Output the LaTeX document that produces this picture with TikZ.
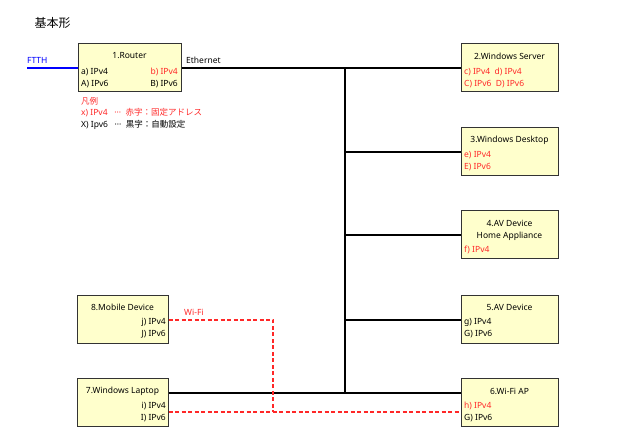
\documentclass[tikz,border=0pt]{standalone}
\usepackage{fontspec}
\setmainfont{Noto Sans}
\newfontfamily\jpfont{Noto Sans CJK JP}
\usetikzlibrary{positioning}
\definecolor{boxfill}{RGB}{255,255,204}
\definecolor{ipred}{RGB}{255,40,40}
\tikzset{
  devbox/.style={draw=black!80,line width=1pt,fill=boxfill,minimum width=97pt,minimum height=48pt,inner sep=0pt},
  smallbox/.style={devbox,minimum width=91pt},
  txt/.style={font=\fontsize{8.5}{10}\selectfont,inner sep=0pt},
  red4/.style={txt,text=ipred},
  eth/.style={line width=1.3pt,black},
  wifi/.style={line width=1.3pt,ipred,dash pattern=on 4pt off 2.5pt}
}
\begin{document}
\begin{tikzpicture}[x=1pt,y=-1pt]
            \useasboundingbox (0,0) rectangle (640,443);
            \node[font=\jpfont\fontsize{12}{14}\selectfont,anchor=west] (title) at (31,23) {基本形};

            % Devices
            \node[devbox,minimum width=103pt] (router) at (129.5,68) {};
            \node[txt] at (129.5,56) {1.Router};
            \node[txt,anchor=west] at (81,72) {a) IPv4};
            \node[txt,anchor=west] at (81,84) {A) IPv6};
            \node[red4,anchor=east] at (178,72) {b) IPv4};
            \node[txt,anchor=east] at (178,84) {B) IPv6};

            \node[devbox] (server) at (509.5,68) {};
            \node[txt] at (509.5,56) {2.Windows Server};
            \node[red4,anchor=west] at (464,72) {c) IPv4 \ d) IPv4};
            \node[red4,anchor=west] at (464,84) {C) IPv6 \ D) IPv6};

            \node[devbox] (desktop) at (509.5,152) {};
            \node[txt] at (509.5,140) {3.Windows Desktop};
            \node[red4,anchor=west] at (464,155) {e) IPv4};
            \node[red4,anchor=west] at (464,167) {E) IPv6};

            \node[devbox] (home) at (509.5,235) {};
            \node[txt] at (509.5,223) {4.AV Device};
            \node[txt] at (509.5,236) {Home Appliance};
            \node[red4,anchor=west] at (464,250) {f) IPv4};

            \node[devbox] (av) at (509.5,320) {};
            \node[txt] at (509.5,307) {5.AV Device};
            \node[txt,anchor=west] at (464,322) {g) IPv4};
            \node[txt,anchor=west] at (464,334) {G) IPv6};

            \node[devbox] (ap) at (509.5,403) {};
            \node[txt] at (509.5,391) {6.Wi-Fi AP};
            \node[red4,anchor=west] at (464,406) {h) IPv4};
            \node[txt,anchor=west] at (464,418) {G) IPv6};

            \node[smallbox] (mobile) at (122.5,320) {};
            \node[txt] at (122.5,307) {8.Mobile Device};
            \node[txt,anchor=east] at (166,322) {j) IPv4};
            \node[txt,anchor=east] at (166,334) {J) IPv6};

            \node[smallbox] (laptop) at (122.5,403) {};
            \node[txt] at (122.5,391) {7.Windows Laptop};
            \node[txt,anchor=east] at (166,406) {i) IPv4};
            \node[txt,anchor=east] at (166,418) {I) IPv6};

            % Legend
            \node[red4,anchor=west,font=\jpfont\fontsize{8.5}{10}\selectfont] at (81,101) {凡例};
            \node[red4,anchor=west] at (81,113) {x) IPv4 \ \ ···\ \ {\jpfont 赤字：固定アドレス}};
            \node[txt,anchor=west] at (81,125) {X) Ipv6 \ \ ···\ \ {\jpfont 黒字：自動設定}};

            % Ethernet
            \coordinate (top) at (345,68);
            \coordinate (bottom) at (345,393);
            \draw[eth] (router.east) -- (server.west);
            \draw[eth] (top) -- (bottom);
            \draw[eth] (desktop.west -| top) -- (desktop.west);
            \draw[eth] (home.west -| top) -- (home.west);
            \draw[eth] (av.west -| top) -- (av.west);
            \draw[eth] (laptop.east |- bottom) -- (ap.west |- bottom);
            \node[txt,anchor=south west] at (186,64) {Ethernet};

            % FTTH
            \coordinate (ftth) at (27,68);
            \draw[line width=1.5pt,blue] (ftth) -- (router.west);
            \node[txt,text=blue,anchor=south west] at (27,64) {FTTH};

            % Wi-Fi
            \coordinate (wbend) at (273,320);
            \draw[wifi] (mobile.east) -- (wbend) -- (wbend |- 0,412);
            \draw[wifi] (laptop.east |- 0,412) -- (ap.west |- 0,412);
            \node[red4,anchor=south west] at (184,316) {Wi-Fi};
\end{tikzpicture}
\end{document}
